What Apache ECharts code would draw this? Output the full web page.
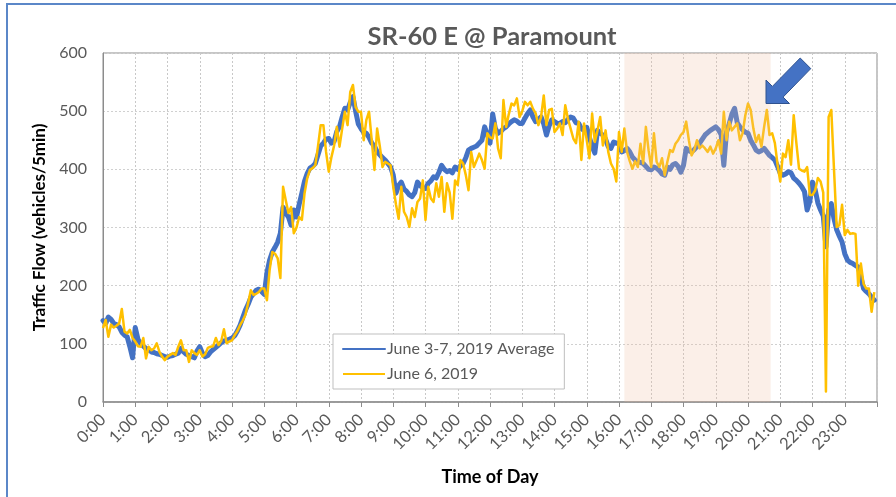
<!DOCTYPE html>
<html>
<head>
<meta charset="utf-8">
<title>SR-60 E @ Paramount</title>
<script src="https://cdn.jsdelivr.net/npm/echarts@6/dist/echarts.min.js"></script>
<style>
  html, body { margin: 0; padding: 0; background: #ffffff; }
  #chart { width: 896px; height: 497px; }
</style>
</head>
<body>
<div id="chart"></div>
<script>
// Traffic flow on SR-60 E at Paramount, vehicles per 5 minutes, 0:00 to 23:55.
const STEP_MINUTES = 5;
const hourTicks = ['0:00','1:00','2:00','3:00','4:00','5:00','6:00','7:00','8:00','9:00','10:00','11:00',
  '12:00','13:00','14:00','15:00','16:00','17:00','18:00','19:00','20:00','21:00','22:00','23:00'];
const yTicks = [0, 100, 200, 300, 400, 500, 600];

const seriesNames = ['June 3-7, 2019 Average', 'June 6, 2019'];

// Weekday average, one row per hour (12 five-minute readings)
const averageFlow = [
  140,135,146,142,135,133,129,120,115,112,95,76,
  128,108,100,96,92,90,86,85,83,82,80,78,
  77,79,80,82,84,92,86,82,80,78,76,88,
  95,84,78,80,86,90,94,98,102,105,106,108,
  110,114,122,132,145,158,168,180,186,192,194,190,
  185,222,244,258,266,275,290,335,325,318,304,330,
  318,340,359,380,393,402,405,410,425,440,445,452,
  453,445,448,465,473,490,505,502,515,525,500,478,
  470,464,462,455,445,440,430,425,420,416,410,404,
  390,359,372,378,366,362,356,353,360,378,372,368,
  367,376,380,387,385,395,407,400,396,398,394,404,
  400,406,410,420,433,436,438,440,445,450,473,460,
  445,495,470,462,465,470,473,478,482,485,483,479,
  479,488,496,502,490,482,486,490,478,459,475,485,
  482,479,479,482,480,486,490,488,480,479,470,467,
  472,455,439,428,467,462,459,452,439,436,447,445,
  445,430,432,436,430,421,416,413,412,410,405,400,
  399,404,402,398,392,390,404,400,408,410,405,395,
  407,436,432,430,434,439,445,452,459,463,467,470,
  473,468,460,407,464,478,495,505,480,473,468,464,
  462,450,442,433,430,432,436,430,424,420,416,405,
  393,390,392,396,394,385,381,376,370,362,330,345,
  378,365,342,330,320,267,330,341,315,296,285,275,
  255,244,240,238,235,232,215,195,190,186,180,175
];

// Single day, June 6, 2019
const june6Flow = [
  127,141,112,133,128,131,135,160,121,118,124,110,
  104,96,95,110,75,95,89,92,101,86,78,72,
  78,81,84,81,95,106,89,89,69,89,84,81,
  89,78,82,93,95,96,110,98,105,125,101,104,
  106,115,122,132,140,150,170,192,184,186,189,195,
  195,175,227,258,255,247,213,370,347,325,335,290,
  300,318,313,359,385,399,402,407,440,476,476,430,
  396,421,441,473,439,470,499,476,533,545,507,499,
  499,450,485,499,450,399,470,440,404,413,410,407,
  370,340,315,370,327,318,301,333,318,344,350,381,
  313,370,350,344,376,353,387,327,376,360,315,381,
  373,416,410,390,364,430,404,415,427,416,401,462,
  455,453,479,436,419,519,473,495,513,510,522,490,
  500,516,510,516,504,496,476,490,527,476,502,504,
  464,470,479,459,510,487,470,453,445,482,416,479,
  450,419,496,447,467,490,441,467,430,410,401,379,
  464,430,470,430,414,401,414,404,444,410,473,433,
  404,462,413,404,419,390,413,433,430,444,450,459,
  464,482,450,424,433,450,436,441,436,430,439,427,
  436,450,427,499,450,482,467,473,479,450,462,493,
  513,502,470,447,459,439,473,502,459,462,445,408,
  379,427,421,450,408,493,445,401,398,396,404,356,
  356,364,385,379,360,18,490,502,400,301,304,339,
  287,296,289,290,289,200,238,203,195,195,155,189
];

// Highlighted evening window, in minutes after midnight
const highlightWindow = [970, 1242];

const FONT = 'Lato, "Liberation Sans", sans-serif';

function toPairs(values) {
  return values.map((v, i) => [i * STEP_MINUTES, v]);
}

const chart = echarts.init(document.getElementById('chart'), null, { renderer: 'canvas' });

chart.setOption({
  backgroundColor: '#ffffff',
  animation: false,
  textStyle: { fontFamily: FONT },
  title: {
    text: 'SR-60 E @ Paramount',
    left: 487,
    top: 19,
    textAlign: 'center',
    textStyle: { fontFamily: FONT, fontSize: 25.5, fontWeight: 'bold', color: '#595959' }
  },
  grid: {
    left: 103, right: 19, top: 53, bottom: 95,
    show: true, borderColor: '#8c8c8c', borderWidth: 1, backgroundColor: 'transparent'
  },
  legend: {
    data: seriesNames,
    orient: 'vertical',
    left: 333,
    top: 334,
    padding: [7, 10, 7, 9],
    itemGap: 9,
    itemWidth: 42,
    itemHeight: 12,
    backgroundColor: '#ffffff',
    borderColor: '#bfbfbf',
    borderWidth: 1,
    itemStyle: { opacity: 0 },
    textStyle: { fontFamily: FONT, fontSize: 16, color: '#595959', padding: [0, 0, 0, -3] }
  },
  xAxis: {
    type: 'value',
    min: 0,
    max: 1440,
    interval: 60,
    name: 'Time of Day',
    nameLocation: 'middle',
    nameGap: 66,
    nameTextStyle: { fontFamily: FONT, fontSize: 18, fontWeight: 'bold', color: '#000000' },
    axisLine: { show: true, lineStyle: { color: '#8c8c8c', width: 1.5 } },
    axisTick: { show: true, length: 5, lineStyle: { color: '#8c8c8c' } },
    axisLabel: {
      rotate: 45,
      margin: 15,
      fontFamily: FONT,
      fontSize: 16.5,
      color: '#595959',
      formatter: (v) => (v % 60 === 0 && v / 60 < hourTicks.length) ? hourTicks[v / 60] : ''
    },
    splitLine: { show: true, lineStyle: { color: '#c8c8c8', type: [2, 2], width: 1 } }
  },
  yAxis: {
    type: 'value',
    min: yTicks[0],
    max: yTicks[yTicks.length - 1],
    interval: 100,
    name: 'Traffic Flow (vehicles/5min)',
    nameLocation: 'middle',
    nameGap: 49,
    nameTextStyle: { fontFamily: FONT, fontSize: 17, fontWeight: 'bold', color: '#000000' },
    axisLine: { show: true, lineStyle: { color: '#8c8c8c' } },
    axisTick: { show: false },
    axisLabel: { margin: 16, fontFamily: FONT, fontSize: 16, color: '#595959' },
    splitLine: { show: true, lineStyle: { color: '#d0d0d0', type: [2, 2], width: 1 } }
  },
  series: [
    {
      name: seriesNames[0],
      type: 'line',
      data: toPairs(averageFlow),
      symbol: 'none',
      z: 2,
      lineStyle: { color: '#4472c4', width: 5, join: 'round', cap: 'round' },
      itemStyle: { color: '#4472c4' }
    },
    {
      name: seriesNames[1],
      type: 'line',
      data: toPairs(june6Flow),
      symbol: 'none',
      z: 3,
      lineStyle: { color: '#ffc000', width: 2.5, join: 'round' },
      itemStyle: { color: '#ffc000' }
    },
    {
      name: 'window',
      type: 'line',
      data: [],
      z: 4,
      silent: true,
      markArea: {
        silent: true,
        z: 4,
        itemStyle: { color: 'rgba(240, 190, 160, 0.24)' },
        data: [[{ xAxis: highlightWindow[0] }, { xAxis: highlightWindow[1] }]]
      }
    }
  ],
  graphic: [
    {
      // outer frame of the chart panel
      type: 'rect',
      silent: true,
      shape: { x: 7, y: 4, width: 900, height: 500 },
      style: { fill: 'none', stroke: '#5b87c8', lineWidth: 2 }
    },
    {
      // call-out arrow
      type: 'polygon',
      silent: true,
      z: 20,
      shape: {
        points: [[766, 103.5], [766, 80], [772.4, 86.4], [800.2, 58], [810.8, 68.6], [783.1, 97.1], [789.5, 103.5]]
      },
      style: { fill: '#4472c4', stroke: '#2f528f', lineWidth: 1 }
    }
  ]
});
</script>
</body>
</html>
